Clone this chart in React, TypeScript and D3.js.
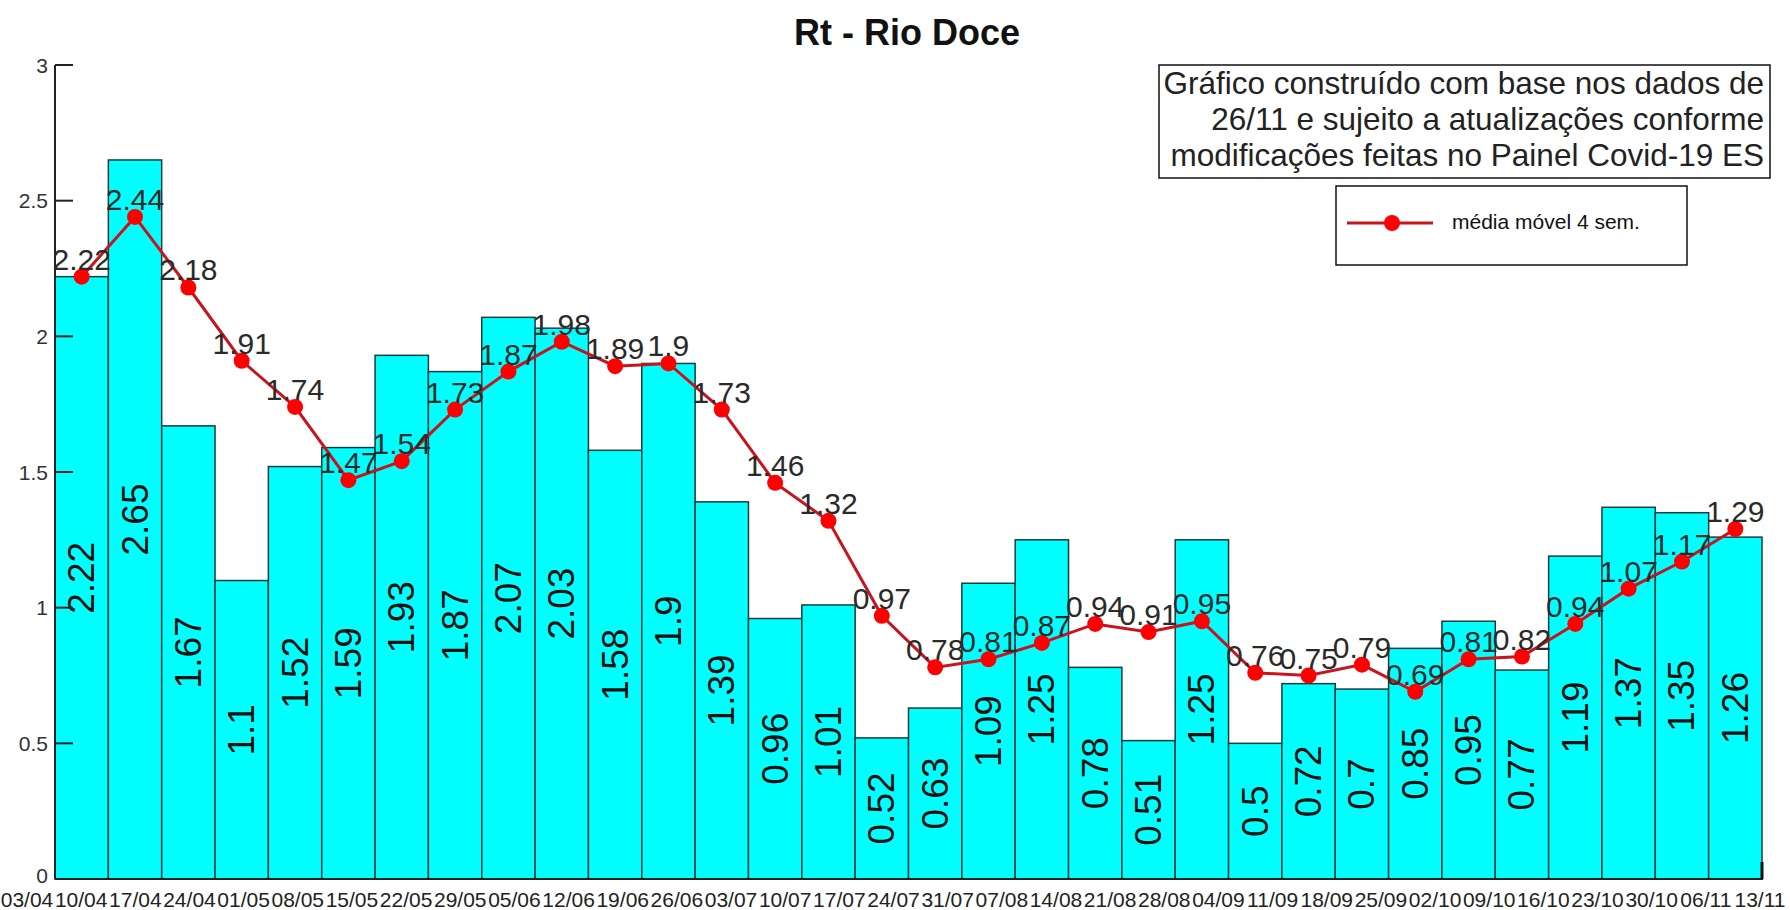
import React from "react";
import * as d3 from "d3";

const title = "Rt - Rio Doce";
const xLabels = [
  "03/04", "10/04", "17/04", "24/04", "01/05", "08/05", "15/05", "22/05", "29/05",
  "05/06", "12/06", "19/06", "26/06", "03/07", "10/07", "17/07", "24/07", "31/07",
  "07/08", "14/08", "21/08", "28/08", "04/09", "11/09", "18/09", "25/09", "02/10",
  "09/10", "16/10", "23/10", "30/10", "06/11", "13/11",
];
const rtWeekly = [
  2.22, 2.65, 1.67, 1.1, 1.52, 1.59, 1.93, 1.87, 2.07, 2.03, 1.58, 1.9, 1.39, 0.96,
  1.01, 0.52, 0.63, 1.09, 1.25, 0.78, 0.51, 1.25, 0.5, 0.72, 0.7, 0.85, 0.95, 0.77,
  1.19, 1.37, 1.35, 1.26,
];
const movingAvg = [
  2.22, 2.44, 2.18, 1.91, 1.74, 1.47, 1.54, 1.73, 1.87, 1.98, 1.89, 1.9, 1.73, 1.46,
  1.32, 0.97, 0.78, 0.81, 0.87, 0.94, 0.91, 0.95, 0.76, 0.75, 0.79, 0.69, 0.81, 0.82,
  0.94, 1.07, 1.17, 1.29,
];
const yTicks = [0, 0.5, 1, 1.5, 2, 2.5, 3];
const noteLines = [
  "Gráfico construído com base nos dados de",
  "26/11 e sujeito a atualizações conforme",
  "modificações feitas no Painel Covid-19 ES",
];
const legendLabel = "média móvel 4 sem.";

const W = 1790;
const H = 910;
const FONT = "'Liberation Sans', Arial, sans-serif";

export default function App() {
  const x = d3
    .scaleBand<number>()
    .domain(d3.range(rtWeekly.length))
    .range([55, 1762])
    .padding(0);
  const y = d3.scaleLinear().domain([0, 3]).range([879, 65]);
  const xl = d3.scalePoint<string>().domain(xLabels).range([27, 1760]);
  const bw = x.bandwidth();
  const cx = (i: number) => (x(i) as number) + bw / 2;

  const line = d3
    .line<number>()
    .x((_, i) => cx(i))
    .y((d) => y(d));

  return (
    <svg
      width={W}
      height={H}
      style={{ position: "absolute", left: 0, top: 0, background: "#fff" }}
      fontFamily={FONT}
    >
      <rect x={0} y={0} width={W} height={H} fill="#fff" />
      {/* title */}
      <text x={907} y={45} textAnchor="middle" fontSize={36} fontWeight="bold" fill="#111">
        {title}
      </text>

      {/* bars */}
      {rtWeekly.map((v, i) => (
        <rect
          key={"b" + i}
          x={x(i)}
          y={y(v)}
          width={bw}
          height={y(0) - y(v)}
          fill="#00ffff"
          stroke="#1c3c3c"
          strokeWidth={1.5}
        />
      ))}
      {/* bar labels */}
      {rtWeekly.map((v, i) => (
        <text
          key={"bl" + i}
          transform={`translate(${cx(i)},${y(v / 2)}) rotate(-90)`}
          textAnchor="middle"
          dominantBaseline="central"
          fontSize={37}
          fill="#111"
        >
          {String(v)}
        </text>
      ))}

      {/* axes */}
      <line x1={55} x2={55} y1={y(3)} y2={y(0)} stroke="#222" strokeWidth={2} />
      {yTicks.map((t) => (
        <g key={"t" + t}>
          <line x1={55} x2={73} y1={y(t)} y2={y(t)} stroke="#222" strokeWidth={2} />
          <text
            x={48}
            y={y(t) - (t === 0 ? 4 : 0)}
            textAnchor="end"
            dominantBaseline="central"
            fontSize={21}
            fill="#333"
          >
            {String(t)}
          </text>
        </g>
      ))}
      <line x1={55} x2={1763} y1={y(0)} y2={y(0)} stroke="#222" strokeWidth={2} />
      <line x1={1762} x2={1762} y1={y(0) - 17} y2={y(0)} stroke="#111" strokeWidth={3} />
      {xLabels.map((l) => (
        <text
          key={"xl" + l}
          x={xl(l)}
          y={907}
          textAnchor="middle"
          fontSize={21}
          fill="#222"
        >
          {l}
        </text>
      ))}

      {/* moving average line */}
      <path d={line(movingAvg) || ""} fill="none" stroke="#c8141e" strokeWidth={3} />
      {movingAvg.map((v, i) => (
        <circle key={"m" + i} cx={cx(i)} cy={y(v)} r={8} fill="#ff0000" />
      ))}
      {movingAvg.map((v, i) => (
        <text
          key={"ml" + i}
          x={cx(i)}
          y={y(v) - 7}
          textAnchor="middle"
          fontSize={30}
          fill="#2a2a2a"
        >
          {String(v)}
        </text>
      ))}

      {/* note box */}
      <rect x={1159} y={65} width={611} height={113} fill="#fff" stroke="#111" strokeWidth={1.5} />
      {noteLines.map((l, i) => (
        <text
          key={"n" + i}
          x={1764}
          y={94 + i * 36}
          textAnchor="end"
          fontSize={31.5}
          fill="#222"
        >
          {l}
        </text>
      ))}

      {/* legend */}
      <rect x={1336} y={186} width={351} height={79} fill="#fff" stroke="#111" strokeWidth={1.5} />
      <line x1={1347} x2={1433} y1={223} y2={223} stroke="#c8141e" strokeWidth={3} />
      <circle cx={1392} cy={223} r={8} fill="#ff0000" />
      <text x={1452} y={229} fontSize={21} fill="#111">
        {legendLabel}
      </text>
    </svg>
  );
}
